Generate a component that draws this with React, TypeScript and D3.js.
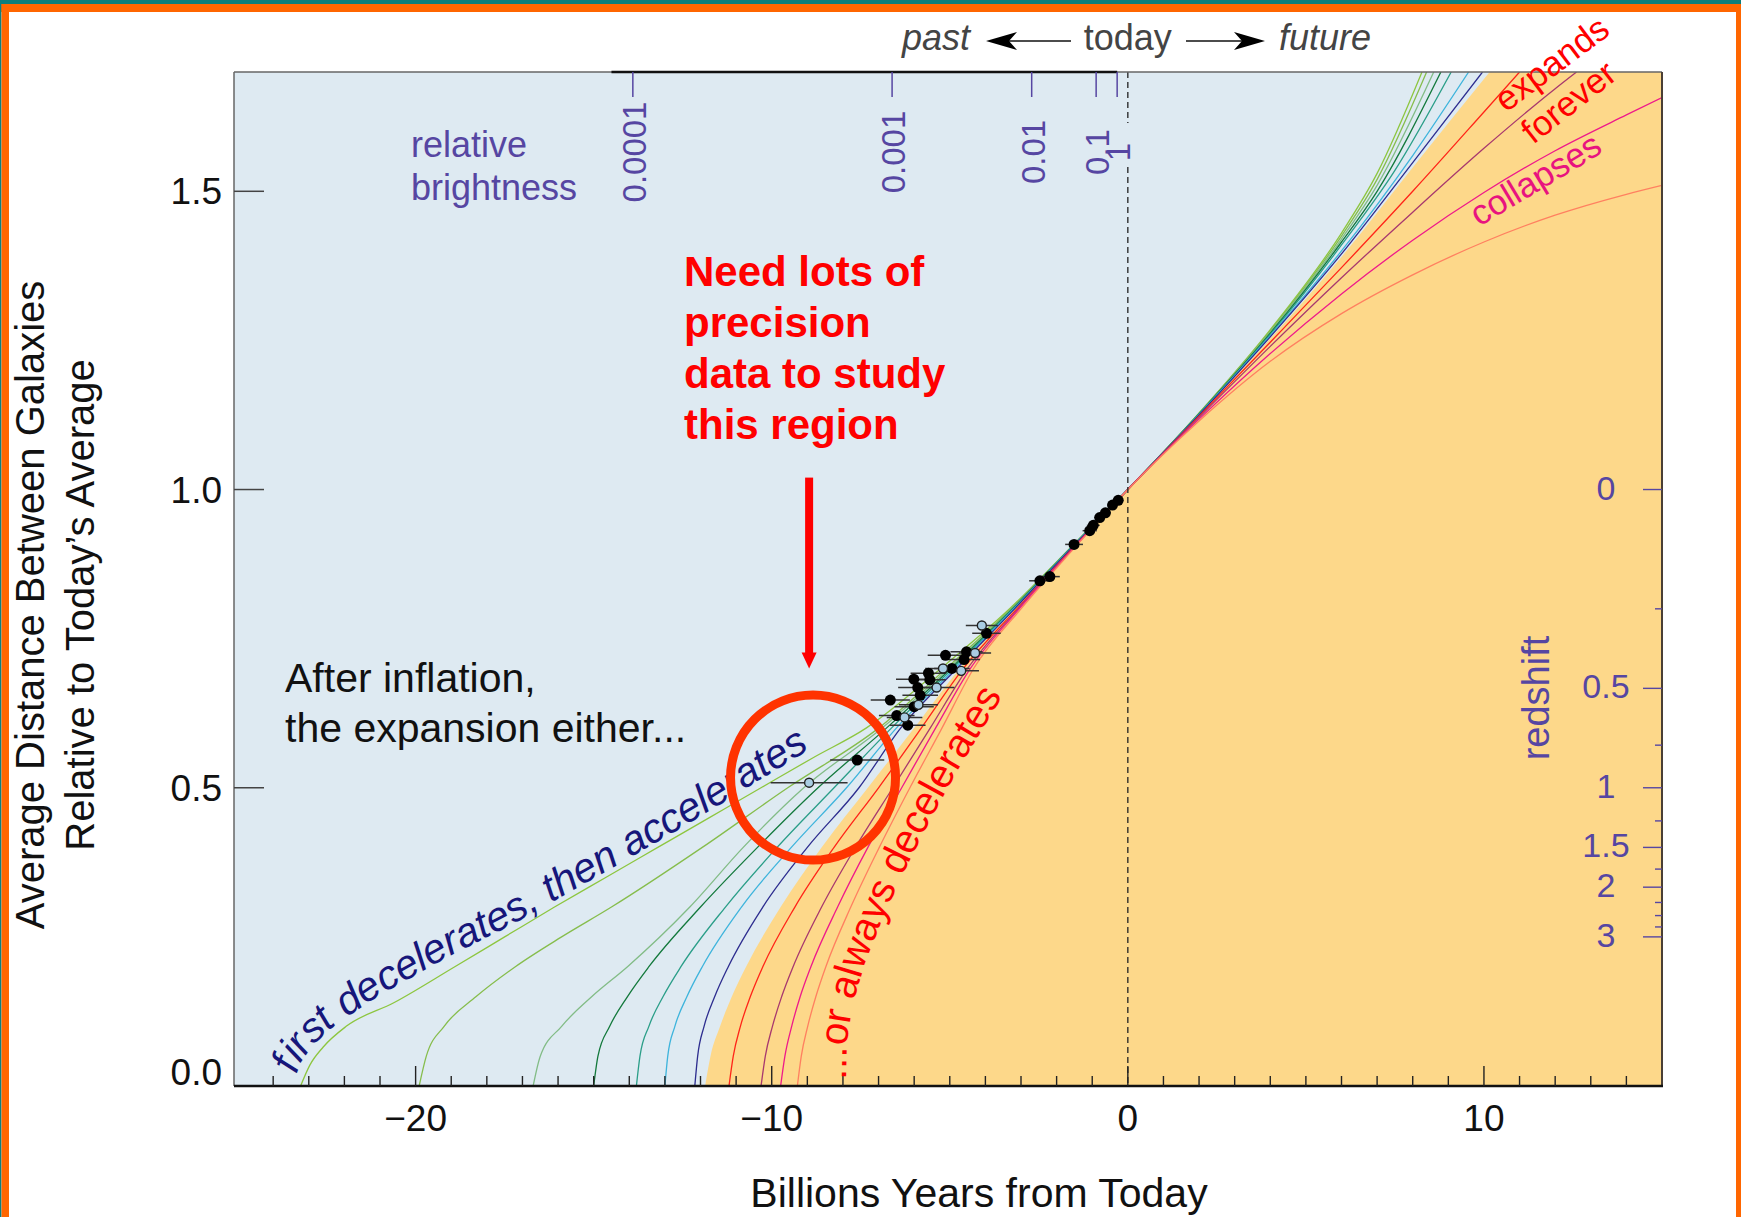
import React from "react";
import * as d3 from "d3";

// ---------------- DATA ----------------
// Scale-factor curves: [billions of years from today, relative distance]
const curveLightGreen: [number, number][] = [[-23.23,0],[-22.97,0.035],[-22.6,0.065],[-21.95,0.1],[-20.6,0.14],[-18.9,0.2],[-17.5,0.25],[-16.1,0.3],[-14.65,0.35],[-13.2,0.4],[-11.75,0.45],[-10.3,0.5],[-8.85,0.55],[-7.35,0.6],[-5.25,0.7],[-3.32,0.8],[-1.65,0.9],[0,1],[2,1.128],[4,1.268],[6,1.43],[7,1.53],[8.26,1.7]];
const curveGreen: [number, number][] = [[-19.9,0],[-19.7,0.05],[-19.2,0.1],[-18.3,0.15],[-17.2,0.2],[-15.9,0.25],[-14.5,0.3],[-11.95,0.4],[-9.55,0.5],[-7.0,0.6],[-5.1,0.7],[-3.28,0.8],[-1.645,0.9],[0,1],[2,1.128],[4,1.266],[6,1.425],[7,1.52],[8.39,1.7]];
const curveSage: [number, number][] = [[-16.7,0],[-16.5,0.05],[-15.9,0.1],[-15.05,0.15],[-14.05,0.2],[-12.3,0.3],[-10.8,0.4],[-9.1,0.5],[-6.9,0.6],[-5.03,0.7],[-3.26,0.8],[-1.64,0.9],[0,1],[2,1.127],[4,1.264],[6,1.42],[7,1.51],[8.59,1.7]];
const curveDarkGreen: [number, number][] = [[-15.0,0],[-14.88,0.05],[-14.55,0.1],[-14.05,0.15],[-13.45,0.2],[-12.0,0.3],[-10.4,0.4],[-8.7,0.5],[-6.78,0.6],[-4.97,0.7],[-3.24,0.8],[-1.635,0.9],[0,1],[2,1.127],[4,1.262],[6,1.415],[7,1.5],[8.79,1.7]];
const curveTeal: [number, number][] = [[-13.8,0],[-13.7,0.05],[-13.45,0.1],[-13.05,0.15],[-12.55,0.2],[-11.3,0.3],[-9.85,0.4],[-8.25,0.5],[-6.64,0.6],[-4.92,0.7],[-3.22,0.8],[-1.63,0.9],[0,1],[2,1.126],[4,1.26],[6,1.41],[7.5,1.535],[9.08,1.7]];
const curveSky: [number, number][] = [[-13.0,0],[-12.92,0.05],[-12.72,0.1],[-12.38,0.15],[-11.95,0.2],[-10.85,0.3],[-9.45,0.4],[-7.9,0.5],[-6.5,0.6],[-4.86,0.7],[-3.2,0.8],[-1.62,0.9],[0,1],[2,1.126],[4,1.258],[6,1.4],[8,1.56],[9.57,1.7]];
const curveNavy: [number, number][] = [[-12.16,0],[-12.08,0.05],[-11.9,0.1],[-11.6,0.15],[-11.22,0.2],[-10.25,0.3],[-9.0,0.4],[-7.55,0.5],[-6.38,0.6],[-4.8,0.7],[-3.18,0.8],[-1.61,0.9],[0,1],[2,1.125],[4,1.256],[6,1.395],[8,1.548],[9.96,1.7]];
const decelBoundary: [number, number][] = [[-11.87,0],[-11.72,0.05],[-11.45,0.1],[-11.12,0.15],[-10.72,0.2],[-9.75,0.3],[-8.6,0.4],[-7.3,0.5],[-6.0,0.6],[-4.72,0.7],[-3.15,0.8],[-1.6,0.9],[0,1],[2,1.124],[4,1.253],[6,1.39],[8,1.54],[10.16,1.7]];
const curveRed: [number, number][] = [[-11.2,0],[-11.08,0.05],[-10.88,0.1],[-10.6,0.15],[-10.25,0.2],[-9.35,0.3],[-8.25,0.4],[-7.0,0.5],[-5.8,0.6],[-4.62,0.7],[-3.12,0.8],[-1.58,0.9],[0,1],[2,1.123],[4,1.247],[6,1.372],[8,1.5],[10,1.633],[11,1.7]];
const curveMaroon: [number, number][] = [[-10.3,0],[-10.18,0.05],[-9.98,0.1],[-9.72,0.15],[-9.4,0.2],[-8.6,0.3],[-7.65,0.4],[-6.6,0.5],[-5.55,0.6],[-4.5,0.7],[-3.08,0.8],[-1.56,0.9],[0,1],[2,1.121],[4,1.24],[6,1.355],[8,1.465],[10,1.572],[12,1.672],[12.6,1.7]];
const curveMagenta: [number, number][] = [[-9.75,0],[-9.63,0.05],[-9.44,0.1],[-9.2,0.15],[-8.9,0.2],[-8.15,0.3],[-7.3,0.4],[-6.35,0.5],[-5.4,0.6],[-4.42,0.7],[-3.05,0.8],[-1.55,0.9],[0,1],[2,1.118],[4,1.228],[6,1.328],[8,1.418],[10,1.498],[12,1.568],[14,1.628],[15,1.657]];
const curveSalmon: [number, number][] = [[-9.28,0],[-9.17,0.05],[-8.99,0.1],[-8.76,0.15],[-8.48,0.2],[-7.78,0.3],[-6.98,0.4],[-6.12,0.5],[-5.22,0.6],[-4.33,0.7],[-3.0,0.8],[-1.53,0.9],[0,1],[2,1.115],[4,1.215],[6,1.295],[8,1.36],[10,1.415],[12,1.46],[14,1.495],[15,1.51]];

// Supernova points: [time, distance, time error]
const snFilled: [number, number, number][] = [[-0.27,0.982,0.12],[-0.43,0.974,0.12],[-0.63,0.961,0.15],[-0.79,0.953,0.15],[-0.97,0.94,0.18],[-1.07,0.931,0.2],[-1.51,0.908,0.25],[-2.19,0.854,0.28],[-2.47,0.847,0.3],[-3.97,0.759,0.4],[-4.53,0.728,0.45],[-5.12,0.722,0.5],[-4.6,0.715,0.45],[-4.94,0.7,0.5],[-5.6,0.692,0.5],[-5.56,0.681,0.45],[-6.01,0.682,0.5],[-5.9,0.668,0.55],[-5.83,0.655,0.5],[-6.67,0.647,0.55],[-6.0,0.636,0.55],[-6.49,0.621,0.5],[-6.18,0.605,0.5],[-7.6,0.5465,0.76]];
const snOpen: [number, number, number][] = [[-4.1,0.772,0.45],[-4.29,0.726,0.45],[-4.68,0.696,0.5],[-5.19,0.7,0.5],[-5.37,0.668,0.5],[-5.88,0.639,0.55],[-6.27,0.618,0.5],[-8.95,0.5085,1.08]];

// Axes
const xMajorTicks = [-20, -10, 0, 10];
const xMajorLabels = ["\u221220", "\u221210", "0", "10"];
const yTicks = [0, 0.5, 1.0, 1.5];
const yLabels = ["0.0", "0.5", "1.0", "1.5"];
const brightnessTicks = [-13.9, -6.62, -2.7, -0.89, -0.3];
const brightnessLabels = ["0.0001", "0.001", "0.01", "0.1", "1"];
const redshiftMajor = [0, 0.5, 1, 1.5, 2, 3];
const redshiftMajorLabels = ["0", "0.5", "1", "1.5", "2", "3"];
const redshiftMinor = [0.25, 0.75, 1.25, 1.75, 2.25, 2.5, 2.75];

// Annotation anchors in data units
const circleCenter: [number, number] = [-8.84, 0.517];
const arrowTop: [number, number] = [-8.95, 1.02];
const arrowTip: [number, number] = [-8.95, 0.7];

const FONT = "'Liberation Sans', Arial, Helvetica, sans-serif";
const PURPLE = "#5646A2";

export default function App() {
  const W = 1741, H = 1217;
  const L = 234, R = 1662, T = 72, B = 1086;
  const x = d3.scaleLinear().domain([-25.1, 15]).range([L, R]);
  const y = d3.scaleLinear().domain([0, 1.7]).range([B, T]);
  const line = d3.line<[number, number]>().x(d => x(d[0])).y(d => y(d[1])).curve(d3.curveMonotoneX);

  const curves = [
    { d: curveLightGreen, c: "#8DC63F" },
    { d: curveGreen, c: "#86BD4C" },
    { d: curveSage, c: "#82BC86" },
    { d: curveDarkGreen, c: "#13793C" },
    { d: curveTeal, c: "#2A9E88" },
    { d: curveSky, c: "#3EB4DC" },
    { d: curveNavy, c: "#2D2D8F" },
    { d: curveRed, c: "#FF2418" },
    { d: curveMaroon, c: "#A8386E" },
    { d: curveMagenta, c: "#EE1A8A" },
    { d: curveSalmon, c: "#FF8060" },
  ];

  const orangePath = (line(decelBoundary) as string) +
    `L${x(15)},${y(1.7)}L${x(15)},${y(0)}Z`;

  const xMinor = d3.range(-24, 15, 1).filter(v => !xMajorTicks.includes(v));
  const ry = (z: number) => y(1 / (1 + z));

  const navyTextPath = "M294,1080 L301,1062 L313,1045 L334,1026 L378,996 L448,957 L515,923 L568,893 L621,863 L671,834 L721,804 L769,774 L817,745 L865,715 L925,675";
  const redTextPath = "M846,1080 L847,1040 L853,1003 L865,963 L880,925 L900,880 L925,830 L955,775 L1000,700 L1030,650";

  const cx = x(circleCenter[0]), cy = y(circleCenter[1]);
  const ax = x(arrowTop[0]), ay0 = y(arrowTop[1]), ay1 = y(arrowTip[1]);

  return (
    <div style={{ position: "absolute", left: 0, top: 0, width: W, height: H }}>
      <svg width={W} height={H} viewBox={`0 0 ${W} ${H}`} style={{ display: "block", fontFamily: FONT }}>
        <defs>
          <clipPath id="plotClip"><rect x={L} y={T} width={R - L} height={B - T} /></clipPath>
          <path id="navyPath" d={navyTextPath} />
          <path id="redPath" d={redTextPath} />
        </defs>
        {/* frame */}
        <rect x={0} y={0} width={W} height={H} fill="#ffffff" />
        <rect x={0} y={0} width={W} height={4} fill="#0A7E7C" />
        <rect x={0} y={4} width={W} height={8} fill="#FF6600" />
        <rect x={0} y={4} width={1.5} height={H} fill="#0A7E7C" />
        <rect x={1.5} y={4} width={7.5} height={H} fill="#FF6600" />
        <rect x={1736} y={4} width={5} height={H} fill="#FF6600" />

        {/* plot regions */}
        <rect x={L} y={T} width={R - L} height={B - T} fill="#DEEAF2" />
        <g clipPath="url(#plotClip)">
          <path d={orangePath} fill="#FDD88A" />
          {curves.map((cv, i) => (
            <path key={i} d={line(cv.d) as string} fill="none" stroke={cv.c} strokeWidth={1.3} />
          ))}
        </g>

        {/* today dashed line */}
        <line x1={x(0)} x2={x(0)} y1={T} y2={123} stroke="#222" strokeWidth={1.3} strokeDasharray="6,4" />
        <line x1={x(0)} x2={x(0)} y1={167} y2={B} stroke="#222" strokeWidth={1.3} strokeDasharray="6,4" />

        {/* borders */}
        <line x1={L} x2={R} y1={T} y2={T} stroke="#666" strokeWidth={1.5} />
        <line x1={L} x2={L} y1={T} y2={B} stroke="#666" strokeWidth={1.5} />
        <line x1={R} x2={R} y1={T} y2={B} stroke="#4A3F35" strokeWidth={2} />
        <line x1={x(-14.5)} x2={x(-0.3)} y1={T} y2={T} stroke="#111" strokeWidth={2.5} />
        <line x1={L} x2={R + 1} y1={B} y2={B} stroke="#111" strokeWidth={2.5} />

        {/* x ticks */}
        {xMinor.map(v => (
          <line key={"m" + v} x1={x(v)} x2={x(v)} y1={B} y2={B - 10} stroke="#222" strokeWidth={1.4} />
        ))}
        {xMajorTicks.map((v, i) => (
          <g key={"M" + v}>
            <line x1={x(v)} x2={x(v)} y1={B} y2={B - 20} stroke="#222" strokeWidth={1.4} />
            <text x={x(v)} y={1131} textAnchor="middle" fontSize={37} fill="#111">{xMajorLabels[i]}</text>
          </g>
        ))}
        {/* y ticks */}
        {yTicks.map((v, i) => (
          <g key={"y" + v}>
            {v > 0 && <line x1={L} x2={L + 30} y1={y(v)} y2={y(v)} stroke="#444" strokeWidth={1.5} />}
            <text x={222} y={v === 0 ? B - 1 : y(v) + 13} textAnchor="end" fontSize={37} fill="#111">{yLabels[i]}</text>
          </g>
        ))}

        {/* brightness axis */}
        {brightnessTicks.map((v, i) => (
          <g key={"b" + i}>
            <line x1={x(v)} x2={x(v)} y1={T} y2={T + 25} stroke={PURPLE} strokeWidth={1.5} />
            <text transform={`translate(${x(v) + 13},152) rotate(-90)`} textAnchor="middle" fontSize={33} fill={PURPLE}>{brightnessLabels[i]}</text>
          </g>
        ))}
        <text x={411} y={157} fontSize={36} fill={PURPLE}>relative</text>
        <text x={411} y={200} fontSize={36} fill={PURPLE}>brightness</text>

        {/* redshift axis */}
        {redshiftMinor.map(z => (
          <line key={"rm" + z} x1={R - 7} x2={R} y1={ry(z)} y2={ry(z)} stroke={PURPLE} strokeWidth={1.4} />
        ))}
        {redshiftMajor.map((z, i) => (
          <g key={"rM" + z}>
            <line x1={R - 19} x2={R} y1={ry(z)} y2={ry(z)} stroke={PURPLE} strokeWidth={1.4} />
            <text x={1606} y={ry(z) + 10} textAnchor="middle" fontSize={34} fill={PURPLE}>{redshiftMajorLabels[i]}</text>
          </g>
        ))}
        <text transform="translate(1549,698) rotate(-90)" textAnchor="middle" fontSize={38} fill={PURPLE}>redshift</text>

        {/* supernova data */}
        {[...snFilled, ...snOpen].map((p, i) => (
          <line key={"e" + i} x1={x(p[0] - p[2])} x2={x(p[0] + p[2])} y1={y(p[1])} y2={y(p[1])} stroke="#333" strokeWidth={1.5} />
        ))}
        {snFilled.map((p, i) => (
          <circle key={"f" + i} cx={x(p[0])} cy={y(p[1])} r={5.5} fill="#000" />
        ))}
        {snOpen.map((p, i) => (
          <circle key={"o" + i} cx={x(p[0])} cy={y(p[1])} r={4.5} fill="#A9CDE3" stroke="#222" strokeWidth={1.4} />
        ))}

        {/* curve labels */}
        <text fontSize={41} fontStyle="italic" fill="#16167A">
          <textPath href="#navyPath" startOffset={6}>first decelerates, then accelerates</textPath>
        </text>
        <text fontSize={40} fill="#FF0000">
          <textPath href="#redPath" startOffset={0}>...or always decelerates</textPath>
        </text>
        <text transform="translate(1506,113) rotate(-37)" fontSize={35} fill="#FF0000">expands</text>
        <text transform="translate(1533,145) rotate(-38)" fontSize={35} fill="#FF0000">forever</text>
        <text transform="translate(1479,227) rotate(-31)" fontSize={35} fill="#E8137F">collapses</text>

        {/* header */}
        <text x={902} y={50} fontSize={36} fontStyle="italic" fill="#444">past</text>
        <text x={x(0)} y={50} fontSize={36} textAnchor="middle" fill="#444">today</text>
        <text x={1279} y={50} fontSize={36} fontStyle="italic" fill="#444">future</text>
        <line x1={1008} x2={1071} y1={41} y2={41} stroke="#111" strokeWidth={1.5} />
        <path d="M986,41 L1017,32 L1009,41 L1017,50 Z" fill="#000" />
        <line x1={1186} x2={1243} y1={41} y2={41} stroke="#111" strokeWidth={1.5} />
        <path d="M1265,41 L1234,32 L1242,41 L1234,50 Z" fill="#000" />

        {/* annotation */}
        <text x={285} y={692} fontSize={41} fill="#111">After inflation,</text>
        <text x={285} y={742} fontSize={41} fill="#111">the expansion either...</text>
        <g fontSize={42} fontWeight="bold" fill="#FF0000">
          <text x={684} y={286}>Need lots of</text>
          <text x={684} y={337}>precision</text>
          <text x={684} y={388}>data to study</text>
          <text x={684} y={439}>this region</text>
        </g>
        <rect x={ax - 4} y={ay0} width={8} height={ay1 - ay0 - 14} fill="#FF0000" />
        <path d={`M${ax - 7.5},${ay1 - 16} L${ax + 7.5},${ay1 - 16} L${ax},${ay1} Z`} fill="#FF0000" />
        <circle cx={cx} cy={cy} r={82.5} fill="none" stroke="#FF3300" strokeWidth={9} />

        {/* axis titles */}
        <text x={979} y={1207} textAnchor="middle" fontSize={41} fill="#111">Billions Years from Today</text>
        <text transform="translate(44,605) rotate(-90)" textAnchor="middle" fontSize={40} fill="#111">Average Distance Between Galaxies</text>
        <text transform="translate(94,605) rotate(-90)" textAnchor="middle" fontSize={40} fill="#111">Relative to Today’s Average</text>
      </svg>
    </div>
  );
}
